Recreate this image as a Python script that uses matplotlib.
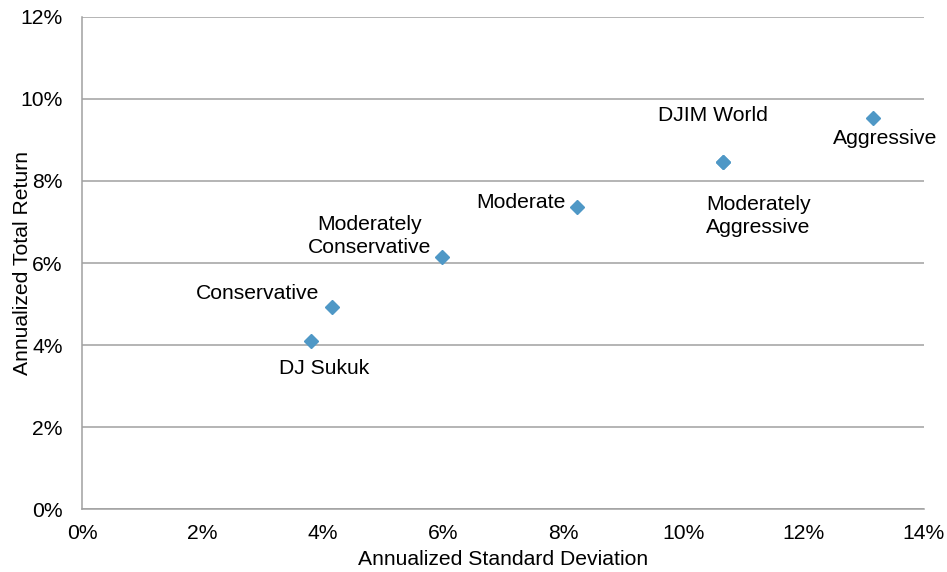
import matplotlib.pyplot as plt
from matplotlib.ticker import FuncFormatter

plt.rcParams['font.family'] = ['Liberation Sans', 'DejaVu Sans']

# risk / return of each portfolio (percent)
names = ['DJ Sukuk', 'Conservative', 'Moderately\nConservative', 'Moderate',
         'DJIM World', 'Moderately\nAggressive', 'Aggressive']
std_dev = [3.80, 4.15, 5.99, 8.23, 10.65, 10.65, 13.16]
total_return = [4.10, 4.93, 6.15, 7.37, 8.46, 8.46, 9.53]

# label offsets in pixels from each marker, plus alignment
offsets = [(14, -28, 'center'), (-12, 13, 'right'), (-73, 21, 'center'),
           (-11, 4, 'right'), (-10, 47, 'center'), (36, -54, 'center'),
           (12, -20, 'center')]

fs = 15.2

fig = plt.figure(figsize=(9.47, 5.72), dpi=100)
ax = fig.add_axes([0.0866, 0.1101, 0.8891, 0.8602])

ax.plot(std_dev, total_return, linestyle='none', marker='D', markersize=7.5,
        color='#4F98C6', zorder=3)

for name, x, y, (dx, dy, ha) in zip(names, std_dev, total_return, offsets):
    ax.annotate(name, (x, y), xytext=(dx, dy), textcoords='offset pixels',
                ha=ha, va='center', fontsize=fs, linespacing=1.22)

ax.set_xlim(0, 14)
ax.set_ylim(0, 12)
ax.set_xticks(range(0, 15, 2))
ax.set_yticks(range(0, 13, 2))
pct = FuncFormatter(lambda v, p: f'{v:.0f}%')
ax.xaxis.set_major_formatter(pct)
ax.yaxis.set_major_formatter(pct)
ax.tick_params(length=0, labelsize=fs)
ax.tick_params(axis='x', pad=11)
ax.tick_params(axis='y', pad=14)

ax.grid(axis='y', color='#A0A0A0', linewidth=1.1)
ax.set_axisbelow(True)
for side in ['top', 'right']:
    ax.spines[side].set_visible(False)
for side in ['left', 'bottom']:
    ax.spines[side].set_color('#A0A0A0')
    ax.spines[side].set_linewidth(1.1)

ax.set_xlabel('Annualized Standard Deviation', fontsize=fs)
ax.set_ylabel('Annualized Total Return', fontsize=fs)
ax.xaxis.set_label_coords(0.5, -0.083)
ax.yaxis.set_label_coords(-0.0594, 0.5)

fig.savefig('out.png', dpi=100)
